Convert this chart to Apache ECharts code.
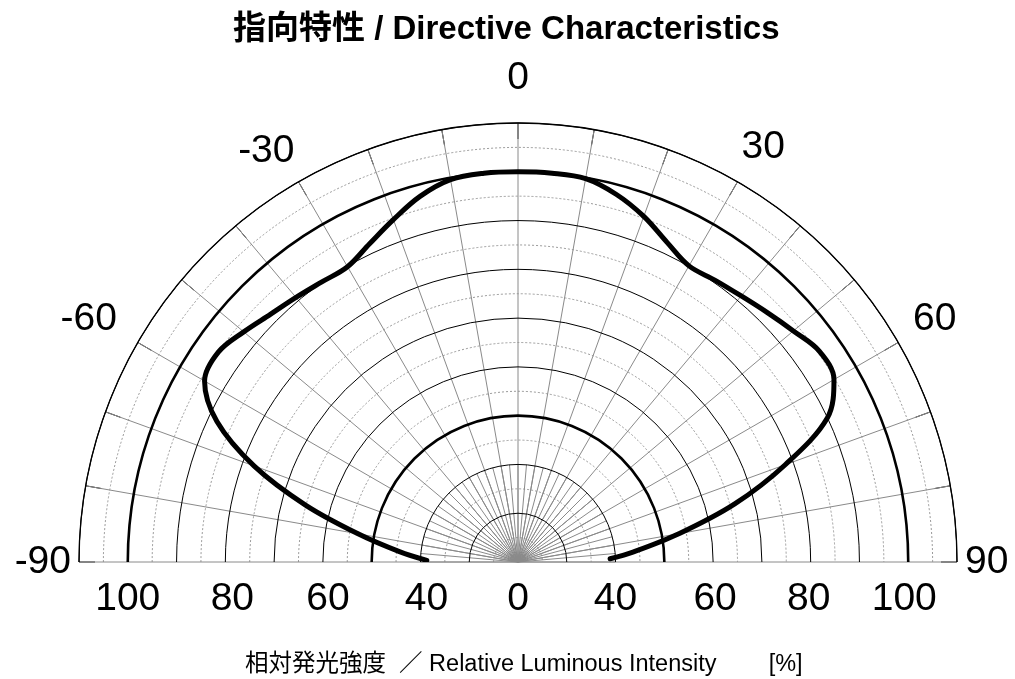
<!DOCTYPE html>
<html>
<head>
<meta charset="utf-8">
<script src="https://cdn.jsdelivr.net/npm/echarts@6/dist/echarts.min.js"></script>
<style>
html,body{margin:0;padding:0;background:#fff;}
#chart{width:1015px;height:679px;}
</style>
</head>
<body>
<div id="chart"></div>
<script>
// ---- data ----
const angles = [-89, -85, -80, -75, -70, -65, -60, -55, -50, -45, -40, -35, -30, -25, -20, -15, -10, -5, 0,
                5, 10, 15, 20, 25, 30, 35, 40, 45, 50, 55, 60, 65, 70, 75, 80, 85, 88];
const intensity = [38.7, 44.4, 53.3, 65.1, 77.6, 88.1, 94.2, 95.0, 93.4, 91.8, 90.8, 90.1, 89.9, 92.0, 94.7, 97.6, 99.6, 100, 100,
                   100, 99.8, 98.0, 95.4, 92.3, 90.1, 90.5, 91.2, 92.3, 93.7, 95.4, 94.8, 90.0, 78.3, 66.0, 53.6, 43.8, 38.9];
const angleLabelValues = [-90, -60, -30, 0, 30, 60, 90];
const angleLabelTexts = ['-90', '-60', '-30', '0', '30', '60', '90'];
const radialLeftValues = [20, 40, 60, 80, 100];
const radialLeftTexts = ['0', '40', '60', '80', '100'];
const radialRightValues = [40, 60, 80, 100];
const radialRightTexts = ['40', '60', '80', '100'];
const thickRingValues = [50, 100];
const radialMin = 20, radialMax = 110, radialStep = 10, radialMinorStep = 5;
const titleText = '指向特性 / Directive Characteristics';
const axisTitleText = '相対発光強度  ／ Relative Luminous Intensity        [%]';

// ---- chart ----
const FONT = '"Liberation Sans", Arial, "Noto Sans CJK JP", sans-serif';
const chart = echarts.init(document.getElementById('chart'), null, {renderer: 'canvas'});
const CENTER = [518, 562];
const R = 439;
const LFS = 39;
function st(pad) { return {fontSize: LFS, fontFamily: FONT, color: '#000', padding: pad}; }
const angleRichKeys = ['m90', 'm60', 'm30', 'z0', 'p30', 'p60', 'p90'];
const angleRich = {
  m90: st([0, 0, 0, 0]), m60: st([0, 14, 0, 0]), m30: st([0, 0, 4, 0]), z0: st([0, 0, 17, 0]),
  p30: st([0, 0, 8, 0]), p60: st([0, 0, 0, 8]), p90: st([0, 0, 0, 0])
};
const leftRichKeys = ['c0', 'l40', 'l60', 'l80', 'l100'];
const leftRich = {
  c0: st([0, 0, 0, 0]), l40: st([0, 0, 0, 12]), l60: st([0, 0, 0, 10]), l80: st([0, 0, 0, 14]), l100: st([0, 0, 0, 0])
};
const rightRichKeys = ['r40', 'r60', 'r80', 'r100'];
const rightRich = {
  r40: st([0, 0, 0, 0]), r60: st([0, 0, 0, 4]), r80: st([0, 4, 0, 0]), r100: st([0, 8, 0, 0])
};
// ring colours: overlay axes only show selected rings
const thickColors = [], minorColors = [];
for (let v = radialMin; v <= radialMax; v += radialStep) {
  thickColors.push(thickRingValues.indexOf(v) >= 0 ? '#000' : 'rgba(0,0,0,0)');
}
minorColors.push('rgba(0,0,0,0)', '#9a9a9a');
const curveData = angles.map((a, i) => [intensity[i], a]);

const hiddenAngle = (idx, s, e, cw) => ({
  polarIndex: idx, type: 'value', min: -90, max: 90, interval: 10,
  startAngle: s, endAngle: e, clockwise: cw,
  axisLine: {show: false}, axisTick: {show: false}, axisLabel: {show: false}, splitLine: {show: false}
});

const option = {
  backgroundColor: '#fff',
  animation: false,
  textStyle: {fontFamily: FONT},
  title: [
    {text: titleText, left: 233, top: 13, padding: 0,
     textStyle: {fontSize: 33, fontWeight: 'bold', color: '#000', fontFamily: FONT}},
    {text: axisTitleText, left: 245, top: 653, padding: 0,
     textStyle: {fontSize: 23.5, fontWeight: 'normal', color: '#000', fontFamily: FONT}}
  ],
  polar: [
    {center: CENTER, radius: R},
    {center: CENTER, radius: R},
    {center: CENTER, radius: R * 20 / 90},
    {center: CENTER, radius: R}
  ],
  angleAxis: [
    {
      polarIndex: 0, type: 'value', min: -90, max: 90, interval: 10,
      startAngle: 180, endAngle: 0, clockwise: true,
      axisLine: {show: true, lineStyle: {color: '#000', width: 1.3}},
      axisTick: {show: true, inside: true, length: 16, lineStyle: {color: '#000', width: 1}},
      splitLine: {show: true, lineStyle: {color: '#8a8a8a', width: 1}},
      axisLabel: {
        show: true, margin: 8, fontSize: LFS, color: '#000', fontFamily: FONT,
        formatter: function (v) {
          const i = angleLabelValues.indexOf(v);
          return i < 0 ? '' : '{' + angleRichKeys[i] + '|' + angleLabelTexts[i] + '}';
        },
        rich: angleRich
      },
      z: 2
    },
    hiddenAngle(1, 0, 180, false),
    {
      polarIndex: 2, type: 'value', min: -90, max: 90, interval: 5,
      startAngle: 180, endAngle: 0, clockwise: true,
      axisLine: {show: false}, axisTick: {show: false}, axisLabel: {show: false},
      splitLine: {show: true, lineStyle: {color: '#8a8a8a', width: 1}}
    },
    hiddenAngle(3, 180, 0, true)
  ],
  radiusAxis: [
    {
      polarIndex: 0, type: 'value', min: radialMin, max: radialMax, interval: radialStep,
      axisLine: {show: false}, axisTick: {show: false},
      splitLine: {show: true, lineStyle: {color: '#000', width: 1}},
      axisLabel: {
        show: true, margin: 18, fontSize: LFS, color: '#000', fontFamily: FONT, verticalAlign: 'top',
        formatter: function (v) {
          const i = radialLeftValues.indexOf(v);
          return i < 0 ? '' : '{' + leftRichKeys[i] + '|' + radialLeftTexts[i] + '}';
        },
        rich: leftRich
      },
      z: 3
    },
    {
      polarIndex: 1, type: 'value', min: radialMin, max: radialMax, interval: radialStep,
      axisLine: {show: false}, axisTick: {show: false},
      splitLine: {show: true, lineStyle: {color: thickColors, width: 2.6}},
      axisLabel: {
        show: true, margin: -18, fontSize: LFS, color: '#000', fontFamily: FONT, verticalAlign: 'top',
        formatter: function (v) {
          const i = radialRightValues.indexOf(v);
          return i < 0 ? '' : '{' + rightRichKeys[i] + '|' + radialRightTexts[i] + '}';
        },
        rich: rightRich
      },
      z: 3
    },
    {polarIndex: 2, type: 'value', min: radialMin, max: 40, show: false},
    {
      polarIndex: 3, type: 'value', min: radialMin, max: radialMax, interval: radialMinorStep,
      axisLine: {show: false}, axisTick: {show: false}, axisLabel: {show: false},
      splitLine: {show: true, lineStyle: {color: minorColors, width: 1, type: [2, 2]}}
    }
  ],
  series: [
    {
      type: 'line', coordinateSystem: 'polar', polarIndex: 0,
      data: curveData, smooth: 0.35, symbol: 'none', clip: false,
      lineStyle: {color: '#000', width: 5, cap: 'round', join: 'round'},
      z: 10
    }
  ]
};
chart.setOption(option);
</script>
</body>
</html>
